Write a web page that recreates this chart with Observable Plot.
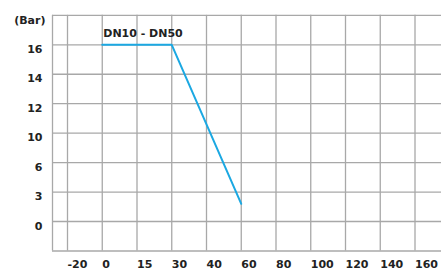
<!DOCTYPE html>
<html>
<head>
<meta charset="utf-8">
<script src="https://cdn.jsdelivr.net/npm/d3@7"></script>
<script src="https://cdn.jsdelivr.net/npm/@observablehq/plot@0.6"></script>
<style>
  html, body { margin: 0; padding: 0; background: #fff; }
</style>
</head>
<body>
<div id="chart"></div>
<script>
// Data
const xTicks = [-20, 0, 15, 30, 40, 60, 80, 100, 120, 140, 160];
const yTicks = [0, 3, 6, 10, 12, 14, 16];
const yUnit = "(Bar)";
const seriesLabel = "DN10 - DN50";
const temperature = [0, 30, 60];
const pressure = [16, 16, 1.8];

// Scale extents (frame edges) beyond the tick values
const xLeft = -30, xRight = 180;
const yBottom = -3, yTop = 18;

const points = temperature.map((t, i) => ({t, p: pressure[i]}));

// evenly spaced (non-linear) axes -> piecewise scales
const xDomain = [xLeft, ...xTicks, xRight];
const xRange = [52, ...xTicks.map((_, i) => 67 + i * 34.75), 67 + xTicks.length * 34.75];
const yDomain = [yBottom, ...yTicks, yTop];
const yRange = [250.5, ...yTicks.map((_, i) => 221 - i * 29.45), 221 - yTicks.length * 29.45];

const grid = "#a8a8a8";

const chart = Plot.plot({
  width: 441,
  height: 271,
  marginLeft: 52,
  marginTop: 15,
  marginRight: 0,
  marginBottom: 20,
  style: {fontFamily: "'DejaVu Sans', Verdana, sans-serif", fontSize: "11px", fontWeight: "bold", color: "#222", background: "#fff"},
  x: {type: "linear", domain: xDomain, range: xRange, axis: null},
  y: {type: "linear", domain: yDomain, range: yRange, axis: null},
  marks: [
    Plot.ruleY([yBottom, ...yTicks, yTop], {x1: xLeft, x2: xRight, stroke: grid, strokeWidth: 1.3}),
    Plot.ruleX([xLeft, ...xTicks], {y1: yBottom, y2: yTop, stroke: grid, strokeWidth: 1.3}),
    Plot.line(points, {x: "t", y: "p", stroke: "#1ba8e2", strokeWidth: 2}),
    Plot.text([seriesLabel], {x: temperature[0], y: pressure[0], text: d => d, textAnchor: "start", dx: 1, dy: -11}),
    Plot.text(xTicks, {x: d => d, y: yBottom, text: d => String(d), textAnchor: "start", dy: 13.5}),
    Plot.text(yTicks, {x: xLeft, y: d => d, text: d => String(d), textAnchor: "end", dx: -10, dy: 4.5}),
    Plot.text([yUnit], {x: xLeft, y: yTop, text: d => d, textAnchor: "end", dx: -7, dy: 5})
  ]
});
document.getElementById("chart").appendChild(chart);
</script>
</body>
</html>
